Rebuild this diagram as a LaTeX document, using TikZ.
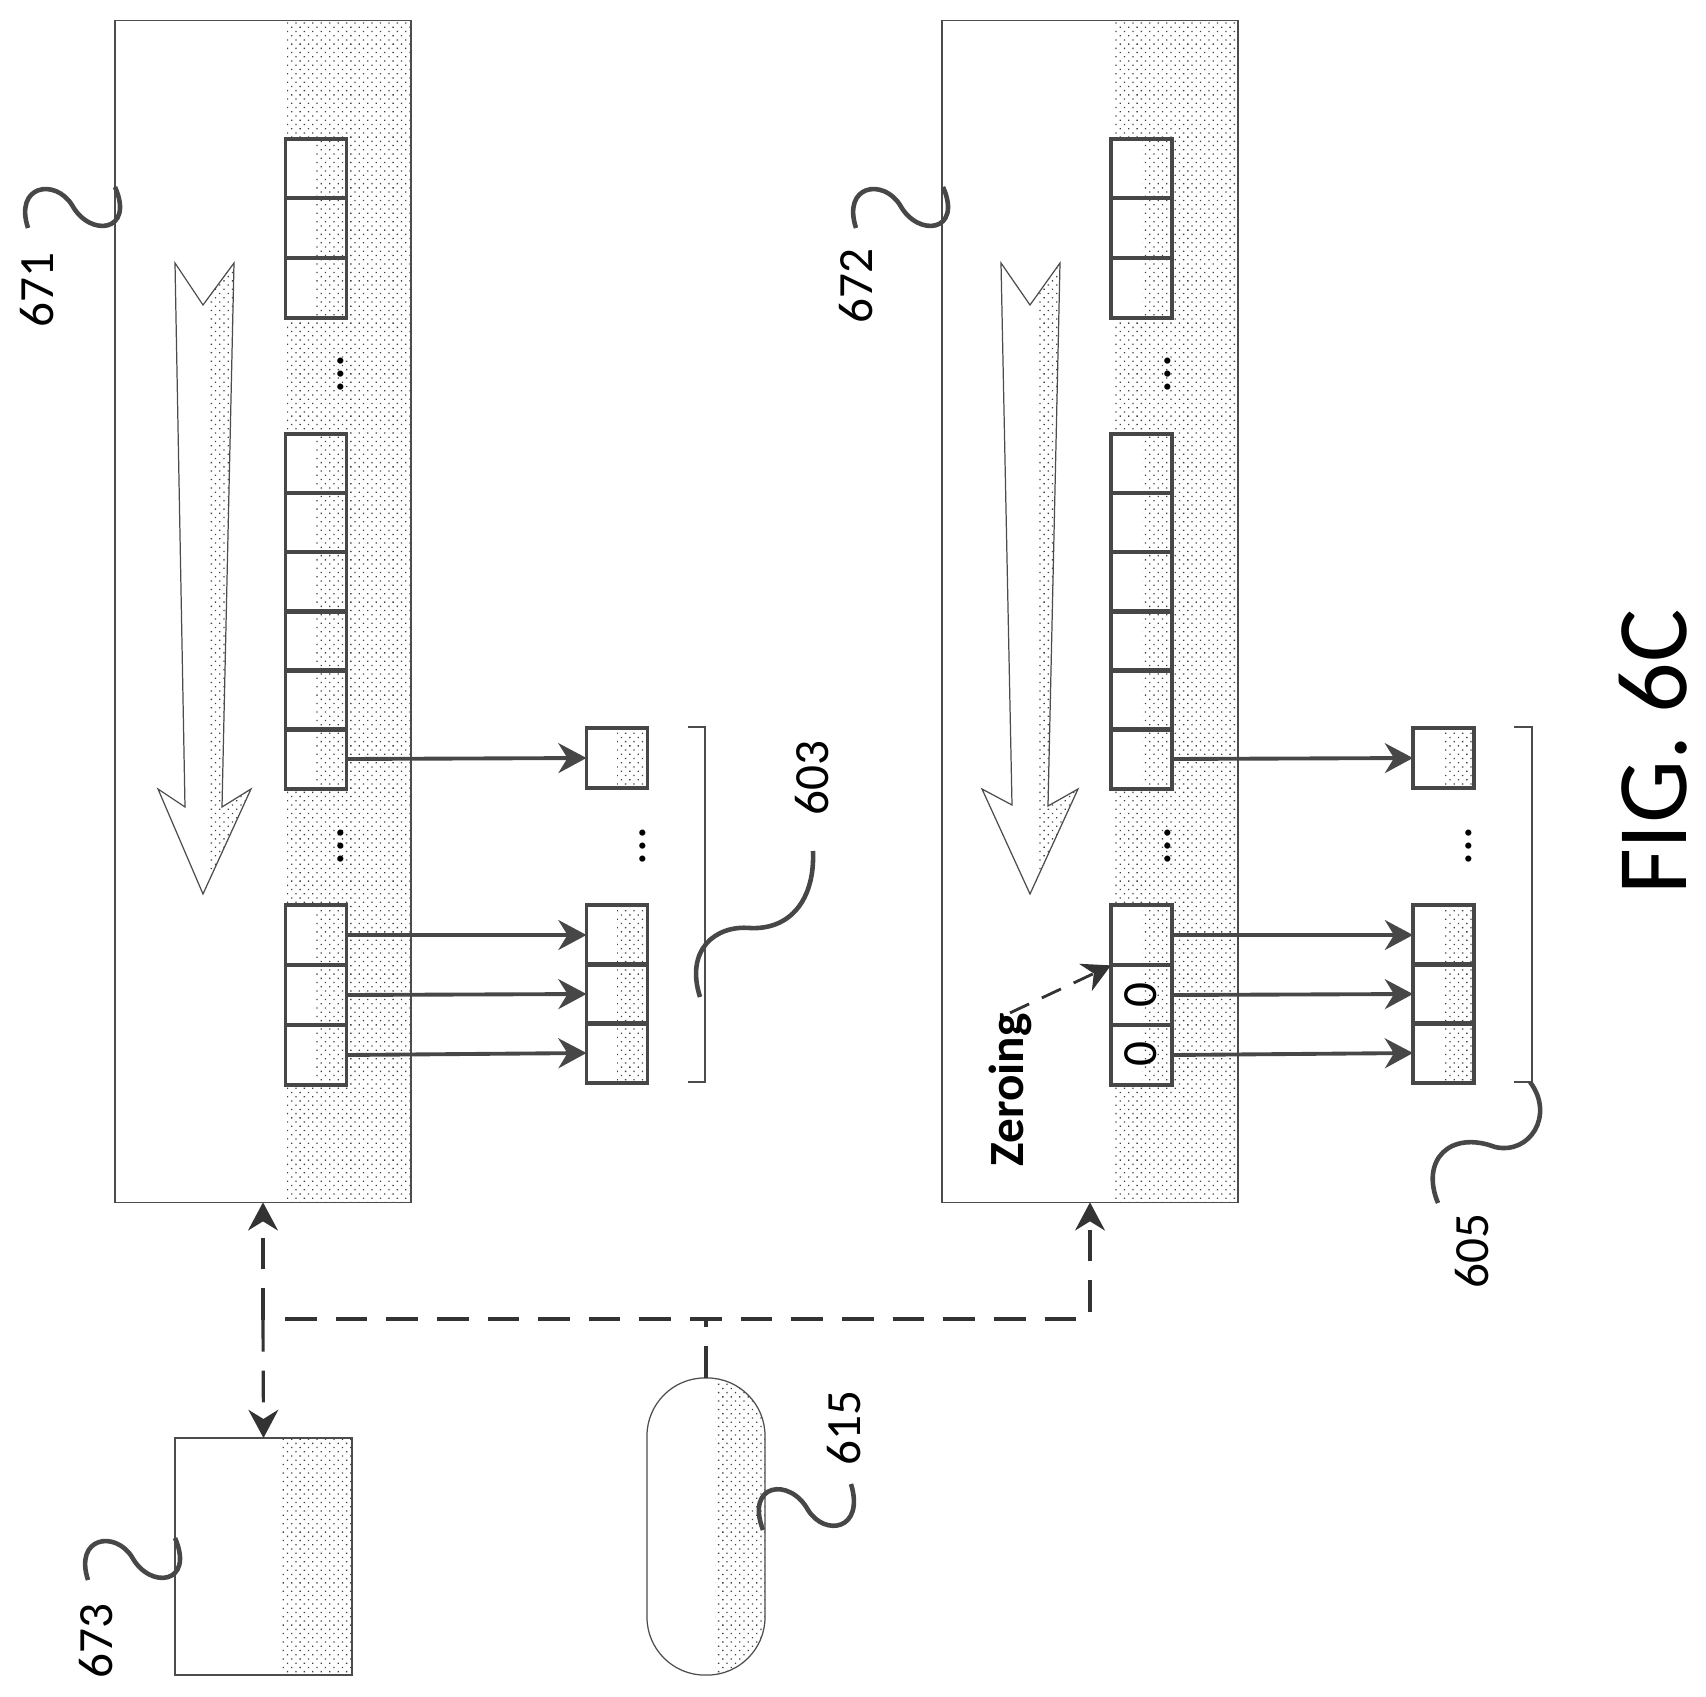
\documentclass[tikz,border=0pt]{standalone}
\usepackage{fontspec}
\setmainfont{Carlito}
\usetikzlibrary{arrows.meta,patterns.meta}
\tikzset{
  dotfill/.style={pattern={Dots[distance=1.7pt,radius=0.26pt,angle=45]},pattern color=black!75},
  frame/.style={draw=black!70,line width=0.35pt,inner sep=0pt,outer sep=0pt},
  cell/.style={draw=black!72,line width=1.1pt,minimum width=0.61cm,minimum height=0.592cm,inner sep=0pt,outer sep=0pt},
  flow/.style={draw=black!72,line width=1.1pt,-{Stealth[length=8pt,width=8.5pt]}},
  ctrl/.style={draw=black!80,line width=0.9pt,dash pattern=on 9pt off 5.4pt},
  squiggle/.style={draw=black!72,line width=1.3pt},
  tag/.style={rotate=90,font=\fontsize{14}{14}\selectfont,inner sep=0pt},
  vdotsmark/.style={rotate=90,anchor=base,font=\fontsize{14.5}{14.5}\selectfont,inner sep=0pt},
}
\begin{document}
\begin{tikzpicture}[x=0.01cm,y=-0.01cm]
\useasboundingbox (0,0) rectangle (1706,1697);
\fill[dotfill] (287,21) rectangle (411,1202);
\fill[dotfill] (1114,21) rectangle (1238,1202);
\fill[dotfill] (280,1438) rectangle (352,1675);
\fill[white] (285,139) rectangle (316,318);
\fill[white] (285,434) rectangle (316,789);
\fill[white] (285,905) rectangle (316,1085);
\fill[white] (1111,139) rectangle (1141.5,318);
\fill[white] (1111,434) rectangle (1141.5,789);
\fill[white] (1111,905) rectangle (1141.5,1085);
\fill[dotfill] (617,729) rectangle (647,789);
\fill[dotfill] (617,905) rectangle (647,1082);
\fill[dotfill] (1443,729) rectangle (1474,790);
\fill[dotfill] (1443,905) rectangle (1474,1082);
\begin{scope}
\clip (175,263) -- (203,305) -- (234,263) -- (222,807) -- (251,789) -- (203,894) -- (158,789) -- (185,807) -- cycle;
\fill[dotfill] (209,250) rectangle (260,900);
\end{scope}
\begin{scope}
\clip (1001,263) -- (1030,305) -- (1060,263) -- (1048,806) -- (1078,789) -- (1030,894) -- (982,789) -- (1012,805) -- cycle;
\fill[dotfill] (1038,250) rectangle (1085,900);
\end{scope}
\begin{scope}
\clip[rounded corners=0.58cm] (647,1378) rectangle (765,1675);
\fill[dotfill] (715,1378) rectangle (765,1675);
\end{scope}
\draw[frame] (175,263) -- (203,305) -- (234,263) -- (222,807) -- (251,789) -- (203,894) -- (158,789) -- (185,807) -- cycle;
\draw[frame] (1001,263) -- (1030,305) -- (1060,263) -- (1048,806) -- (1078,789) -- (1030,894) -- (982,789) -- (1012,805) -- cycle;

\node[frame,minimum width=2.96cm,minimum height=11.81cm] (bufferA) at (263,611.5) {};
\node[frame,minimum width=2.96cm,minimum height=11.81cm] (bufferB) at (1090,611.5) {};
\node[frame,minimum width=1.77cm,minimum height=2.37cm] (store) at (263.5,1556.5) {};
\node[frame,rounded corners=0.58cm,minimum width=1.18cm,minimum height=2.97cm] (pill) at (706,1526.5) {};

\node[cell] (a1) at (316,168.5) {};
\node[cell] (a2) at (316,228) {};
\node[cell] (a3) at (316,288) {};
\node[cell] (a4) at (316,463.5) {};
\node[cell] (a5) at (316,522.8) {};
\node[cell] (a6) at (316,582) {};
\node[cell] (a7) at (316,641) {};
\node[cell] (a8) at (316,700) {};
\node[cell] (a9) at (316,759) {};
\node[cell] (a10) at (316,935) {};
\node[cell] (a11) at (316,995) {};
\node[cell] (a12) at (316,1055) {};
\node[cell] (p1) at (617,758) {};
\node[cell] (p2) at (617,935) {};
\node[cell] (p3) at (617,994) {};
\node[cell] (p4) at (617,1053) {};
\node[cell] (b1) at (1141.5,168.5) {};
\node[cell] (b2) at (1141.5,228) {};
\node[cell] (b3) at (1141.5,288) {};
\node[cell] (b4) at (1141.5,463.5) {};
\node[cell] (b5) at (1141.5,522.8) {};
\node[cell] (b6) at (1141.5,582) {};
\node[cell] (b7) at (1141.5,641) {};
\node[cell] (b8) at (1141.5,700) {};
\node[cell] (b9) at (1141.5,759) {};
\node[cell] (b10) at (1141.5,935) {};
\node[cell] (b11) at (1141.5,995) {};
\node[cell] (b12) at (1141.5,1055) {};
\node[cell] (q1) at (1443.5,758) {};
\node[cell] (q2) at (1443.5,935) {};
\node[cell] (q3) at (1443.5,994) {};
\node[cell] (q4) at (1443.5,1053) {};

\draw[flow] (a9.east) -- (p1.west);
\draw[flow] (a10.east) -- (p2.west);
\draw[flow] (a11.east) -- (p3.west);
\draw[flow] (a12.east) -- (p4.west);
\draw[flow] (b9.east) -- (q1.west);
\draw[flow] (b10.east) -- (q2.west);
\draw[flow] (b11.east) -- (q3.west);
\draw[flow] (b12.east) -- (q4.west);

\node[vdotsmark] (dotsA) at (343,374) {...};
\node[vdotsmark] (dotsB) at (343,846) {...};
\node[vdotsmark] (dotsC) at (645,846) {...};
\node[vdotsmark] (dotsD) at (1170,374) {...};
\node[vdotsmark] (dotsE) at (1170,846) {...};
\node[vdotsmark] (dotsF) at (1471,846) {...};

\node[tag] (zeroA) at (1141,995) {0};
\node[tag] (zeroB) at (1141,1054) {0};
\node[tag,font=\fontsize{14}{14}\selectfont\bfseries] (zeroing) at (1010,1090) {Zeroing};
\draw[ctrl,line width=0.8pt,dash pattern=on 6pt off 4pt,-{Stealth[length=8pt,width=8.5pt]}] (zeroing.east) -- (b11.north west);

\node[tag] (l671) at (37,290) {671};
\node[tag] (l672) at (856,286) {672};
\node[tag] (l673) at (96,1641) {673};
\node[tag] (l603) at (812,778) {603};
\node[tag] (l605) at (1472,1251) {605};
\node[tag] (l615) at (844,1428) {615};
\node[rotate=90,font=\fontsize{28.4}{28.4}\selectfont,inner sep=0pt] (figlabel) at (1653,752) {FIG. 6C};

\draw[frame] (688,727) -- (705,727) -- (705,1082) -- (688,1082);
\draw[frame] (1514,727) -- (1532,727) -- (1532,1082) -- (1514,1082);

\coordinate (busmid) at (263,1320);
\coordinate (busstart) at (285,1319);
\coordinate (busend) at (1078,1319);
\coordinate (busjoin) at (706,1319);
\coordinate (buscorner) at (1090,1312);
\draw[ctrl,-{Stealth[length=8pt,width=8.5pt]}] (busmid) -- (bufferA.south);
\draw[ctrl,-{Stealth[length=8pt,width=8.5pt]}] (busmid) -- (store.north);
\draw[ctrl] (busstart) -- (busend);
\draw[ctrl,-{Stealth[length=8pt,width=8.5pt]}] (buscorner) -- (bufferB.south);
\draw[ctrl] (pill.north) -- (busjoin);

\coordinate (s671) at (28,228);
\coordinate (e671) at (115,187);
\coordinate (s672) at (856,228);
\coordinate (e672) at (943,187);
\coordinate (s673) at (88,1580);
\coordinate (e673) at (175,1538);
\coordinate (s615) at (851,1484);
\coordinate (e615) at (763,1530);
\coordinate (s603) at (813,851);
\coordinate (e603) at (700,997);
\coordinate (s605) at (1438,1203);
\coordinate (e605) at (1530,1082);
\draw[squiggle] (s671) .. controls (14,185) and (55,178) .. (72,205) .. controls (90,238) and (135,232) .. (e671);
\draw[squiggle] (s672) .. controls (842,185) and (883,178) .. (900,205) .. controls (918,238) and (963,232) .. (e672);
\draw[squiggle] (s673) .. controls (74,1537) and (115,1530) .. (132,1557) .. controls (150,1590) and (195,1584) .. (e673);
\draw[squiggle] (s615) .. controls (865,1530) and (825,1537) .. (808,1510) .. controls (790,1477) and (745,1483) .. (e615);
\draw[squiggle] (s603) .. controls (815,900) and (790,930) .. (750,928) .. controls (715,925) and (685,950) .. (e603);
\draw[squiggle] (s605) .. controls (1420,1160) and (1450,1130) .. (1495,1147) .. controls (1530,1155) and (1555,1115) .. (e605);
\end{tikzpicture}
\end{document}
